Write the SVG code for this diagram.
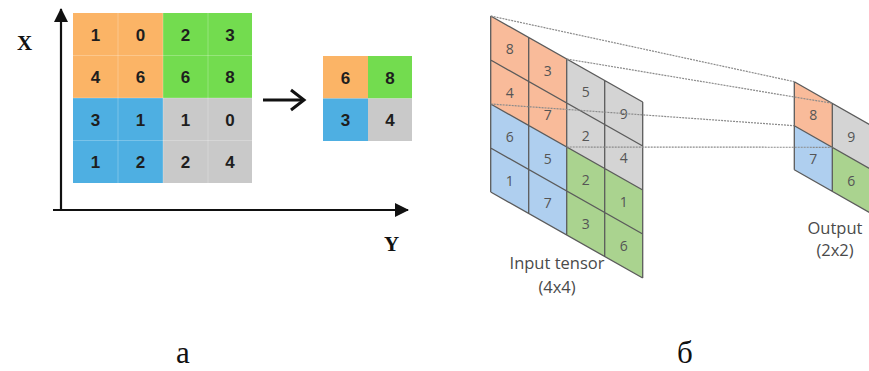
<svg xmlns="http://www.w3.org/2000/svg" width="869" height="371" viewBox="0 0 869 371">
<style>
.num{font-family:"Liberation Sans",Arial,sans-serif;font-weight:bold;font-size:17px;fill:#1e1e1e;text-anchor:middle;dominant-baseline:central}
.tn{font-family:"Open Sans","DejaVu Sans",sans-serif;font-size:14px;fill:#555;text-anchor:middle;dominant-baseline:central}
.lbl{font-family:"Open Sans","DejaVu Sans",sans-serif;font-size:16.5px;fill:#4a4a4a;text-anchor:middle}
.axl{font-family:"Liberation Serif","Times New Roman",serif;font-weight:bold;font-size:21px;fill:#111}
.cap{font-family:"Liberation Serif","Times New Roman",serif;font-size:31px;fill:#111;text-anchor:middle}
.or{fill:#FBB466}.gr{fill:#73DC4F}.bl{fill:#4EAFE2}.gy{fill:#C9C9C9}
.or2{fill:#F9BB9A}.gr2{fill:#AAD38F}.bl2{fill:#AFCFEF}.gy2{fill:#D4D4D4}
.cellline{stroke:#ffffff;stroke-opacity:0.25;stroke-width:1;fill:none}
.tline{stroke:#5b5b5b;stroke-width:1.3;fill:none}
.dot{stroke:#8a8a8a;stroke-width:1.2;stroke-dasharray:2 1;fill:none}
</style>
<defs>
<marker id="tri2" markerWidth="14" markerHeight="14" refX="13" refY="7" orient="auto" markerUnits="userSpaceOnUse">
<path d="M0,0 L14,7 L0,14 Z" fill="#111"/>
</marker>
</defs>

<!-- Part a -->
<g id="axes">
<line x1="61" y1="210" x2="61" y2="9" stroke="#111" stroke-width="2.2" marker-end="url(#tri2)"/>
<line x1="53" y1="210" x2="408" y2="210" stroke="#111" stroke-width="2.2" marker-end="url(#tri2)"/>
<text class="axl" x="17" y="50">X</text>
<text class="axl" x="384" y="251">Y</text>
</g>

<g id="input-grid-a">
<rect class="or" x="73" y="13" width="90" height="85"/>
<rect class="gr" x="163" y="13" width="89" height="85"/>
<rect class="bl" x="73" y="98" width="90" height="85"/>
<rect class="gy" x="163" y="98" width="89" height="85"/>
<path class="cellline" d="M118,13V183M163,13V183M208,13V183M73,55.5H252M73,98H252M73,140.5H252"/>
<text class="num" x="95.5" y="35">1</text><text class="num" x="140.5" y="35">0</text><text class="num" x="185.5" y="35">2</text><text class="num" x="230" y="35">3</text>
<text class="num" x="95.5" y="77">4</text><text class="num" x="140.5" y="77">6</text><text class="num" x="185.5" y="77">6</text><text class="num" x="230" y="77">8</text>
<text class="num" x="95.5" y="120">3</text><text class="num" x="140.5" y="120">1</text><text class="num" x="185.5" y="120">1</text><text class="num" x="230" y="120">0</text>
<text class="num" x="95.5" y="162">1</text><text class="num" x="140.5" y="162">2</text><text class="num" x="185.5" y="162">2</text><text class="num" x="230" y="162">4</text>
</g>

<g id="connectors-a">
<line x1="263" y1="100" x2="303" y2="100" stroke="#111" stroke-width="3"/>
<polyline points="291,90 304,100 291,110" fill="none" stroke="#111" stroke-width="3"/>
</g>

<g id="output-grid-a">
<rect class="or" x="323" y="56" width="45" height="42.5"/>
<rect class="gr" x="368" y="56" width="44" height="42.5"/>
<rect class="bl" x="323" y="98.5" width="45" height="42.5"/>
<rect class="gy" x="368" y="98.5" width="44" height="42.5"/>
<text class="num" x="345.5" y="78">6</text><text class="num" x="390" y="78">8</text>
<text class="num" x="345.5" y="120">3</text><text class="num" x="390" y="120">4</text>
</g>

<!-- Part b -->
<g id="input-tensor">
<polygon class="or2" points="490.7,16 566.7,59 566.7,147 490.7,104"/>
<polygon class="gy2" points="566.7,59 642.7,102 642.7,190 566.7,147"/>
<polygon class="bl2" points="490.7,104 566.7,147 566.7,235 490.7,192"/>
<polygon class="gr2" points="566.7,147 642.7,190 642.7,278 566.7,235"/>
<path class="tline" d="M490.7,16V192M528.7,37.5V213.5M566.7,59V235M604.7,80.5V256.5M642.7,102V278
M490.7,16L642.7,102M490.7,60L642.7,146M490.7,104L642.7,190M490.7,148L642.7,234M490.7,192L642.7,278"/>
<text class="tn" x="509.7" y="48.8">8</text><text class="tn" x="547.7" y="70.3">3</text><text class="tn" x="585.7" y="91.8">5</text><text class="tn" x="623.7" y="113.3">9</text>
<text class="tn" x="509.7" y="92.8">4</text><text class="tn" x="547.7" y="114.3">7</text><text class="tn" x="585.7" y="135.8">2</text><text class="tn" x="623.7" y="157.3">4</text>
<text class="tn" x="509.7" y="136.8">6</text><text class="tn" x="547.7" y="158.3">5</text><text class="tn" x="585.7" y="179.8">2</text><text class="tn" x="623.7" y="201.3">1</text>
<text class="tn" x="509.7" y="180.8">1</text><text class="tn" x="547.7" y="202.3">7</text><text class="tn" x="585.7" y="223.8">3</text><text class="tn" x="623.7" y="245.3">6</text>
<text class="lbl" x="557" y="269">Input tensor</text>
<text class="lbl" x="557" y="293">(4x4)</text>
</g>

<g id="output-tensor">
<polygon class="or2" points="794.3,81.7 832.3,103.3 832.3,147.3 794.3,125.7"/>
<polygon class="gy2" points="832.3,103.3 870.3,124.9 870.3,168.9 832.3,147.3"/>
<polygon class="bl2" points="794.3,125.7 832.3,147.3 832.3,191.3 794.3,169.7"/>
<polygon class="gr2" points="832.3,147.3 870.3,168.9 870.3,212.9 832.3,191.3"/>
<path class="tline" d="M794.3,81.7V169.7M832.3,103.3V191.3M794.3,81.7L870.3,124.9M794.3,125.7L870.3,168.9M794.3,169.7L870.3,212.9"/>
<text class="tn" x="813.3" y="114.5">8</text><text class="tn" x="851.3" y="136.1">9</text>
<text class="tn" x="813.3" y="158.5">7</text><text class="tn" x="851.3" y="180.1">6</text>
<text class="lbl" x="835" y="234">Output</text>
<text class="lbl" x="835" y="256">(2x2)</text>
</g>

<g id="connectors-b">
<line class="dot" x1="490.7" y1="16" x2="794.3" y2="81.7"/>
<line class="dot" x1="566.7" y1="59" x2="832.3" y2="103.3"/>
<line class="dot" x1="490.7" y1="104" x2="794.3" y2="125.7"/>
<line class="dot" x1="566.7" y1="147" x2="832.3" y2="147.3"/>
</g>

<g id="captions">
<text class="cap" x="183" y="363">а</text>
<text class="cap" x="685" y="363">б</text>
</g>
</svg>
